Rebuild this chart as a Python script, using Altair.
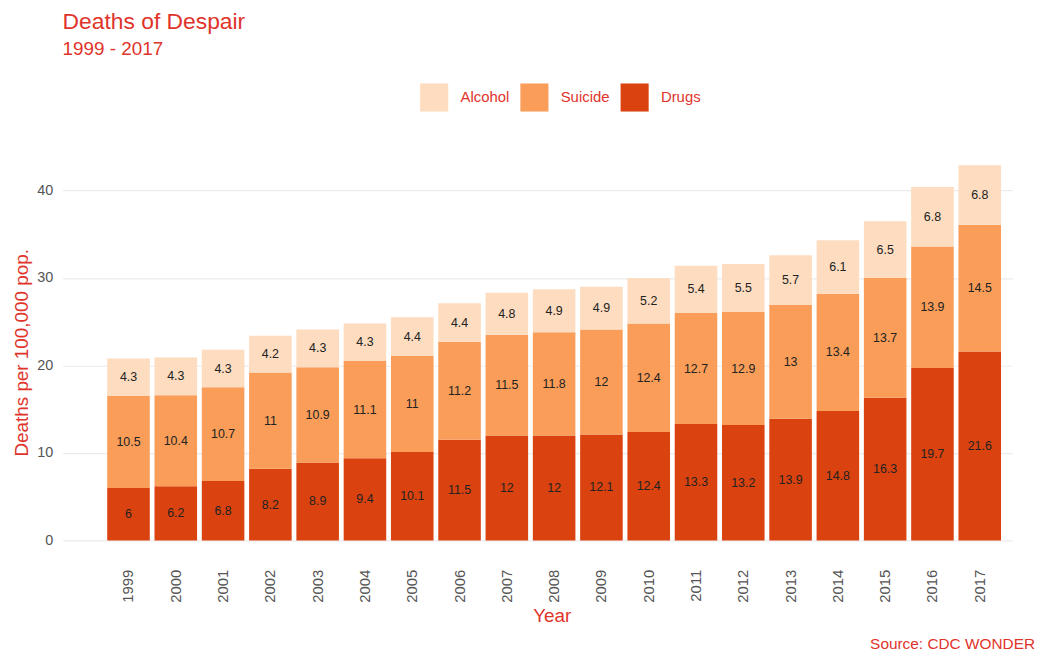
import altair as alt
import pandas as pd

years = [str(y) for y in range(1999, 2018)]
drugs = [6, 6.2, 6.8, 8.2, 8.9, 9.4, 10.1, 11.5, 12, 12, 12.1, 12.4, 13.3, 13.2, 13.9, 14.8, 16.3, 19.7, 21.6]
suicide = [10.5, 10.4, 10.7, 11, 10.9, 11.1, 11, 11.2, 11.5, 11.8, 12, 12.4, 12.7, 12.9, 13, 13.4, 13.7, 13.9, 14.5]
alcohol = [4.3, 4.3, 4.3, 4.2, 4.3, 4.3, 4.4, 4.4, 4.8, 4.9, 4.9, 5.2, 5.4, 5.5, 5.7, 6.1, 6.5, 6.8, 6.8]
causes = ["Alcohol", "Suicide", "Drugs"]
colors = ["#FDDCBF", "#F99D58", "#DA420F"]
stack_order = {"Drugs": 0, "Suicide": 1, "Alcohol": 2}

rows = []
for i, y in enumerate(years):
    for cause, vals in (("Drugs", drugs), ("Suicide", suicide), ("Alcohol", alcohol)):
        v = vals[i]
        rows.append({"Year": y, "Cause": cause, "value": v, "ord": stack_order[cause], "label": f"{v:g}"})
df = pd.DataFrame(rows)

RED = "#E0342B"
FONT = "Liberation Sans"
W, H = 957, 417

xenc = alt.X("Year:N", title="Year",
             scale=alt.Scale(paddingInner=0.1, paddingOuter=0.59, align=0.8),
             axis=alt.Axis(labelAngle=-90, labelFontSize=15, labelColor="#555555", labelPadding=10,
                           ticks=False, domain=False, grid=False, titleColor=RED, titleFontSize=19,
                           titleFontWeight="normal", titlePadding=4, titleX=493, labelFont=FONT,
                           titleFont=FONT))

base = alt.Chart(df).transform_stack(
    stack="value", groupby=["Year"], as_=["y0", "y1"], sort=[alt.SortField("ord", order="ascending")]
).transform_calculate(mid="(datum.y0 + datum.y1) / 2")

bars = base.mark_bar().encode(
    x=xenc,
    y=alt.Y("y0:Q", title="Deaths per 100,000 pop.",
            scale=alt.Scale(domain=[-2.15, 45.15], nice=False, zero=False),
            axis=alt.Axis(values=[0, 10, 20, 30, 40], labelFontSize=14.5, labelColor="#555555",
                          labelPadding=10, ticks=False, domain=False, gridColor="#EBEBEB", gridWidth=1.2,
                          titleColor=RED, titleFontSize=19, titleFontWeight="normal", titlePadding=5,
                          labelFont=FONT, titleFont=FONT)),
    y2="y1:Q",
    color=alt.Color("Cause:N", scale=alt.Scale(domain=causes, range=colors),
                    legend=alt.Legend(title=None, orient="none", direction="horizontal",
                                      legendX=360, legendY=-63, symbolType="square", symbolSize=800,
                                      symbolStrokeWidth=0, labelFontSize=15, labelColor=RED,
                                      labelFont=FONT, columnPadding=10, labelOffset=12,
                                      padding=0)),
)

labels = base.mark_text(fontSize=12.5, color="#222222", font=FONT).encode(
    x=alt.X("Year:N"),
    y=alt.Y("mid:Q"),
    text="label:N",
)

src = pd.DataFrame({"t": ["Source: CDC WONDER"]})
source = alt.Chart(src).mark_text(align="right", baseline="middle", fontSize=15.5, color=RED,
                                  font=FONT).encode(
    x=alt.value(980), y=alt.value(502), text="t:N")

chart = alt.layer(bars, labels, source).properties(
    width=W, height=H,
    title=alt.TitleParams(text="Deaths of Despair", subtitle="1999 - 2017", anchor="start", frame="group",
                          color=RED, subtitleColor=RED, fontSize=23, subtitleFontSize=19,
                          fontWeight="normal", font=FONT, subtitleFont=FONT,
                          subtitlePadding=6, offset=24),
    autosize=alt.AutoSizeParams(type="none"),
    padding={"left": 55, "top": 136, "right": 25, "bottom": 97},
).configure(background="white").configure_view(stroke=None)

chart.save("out.html", embed_options={"renderer": "svg", "actions": False})
